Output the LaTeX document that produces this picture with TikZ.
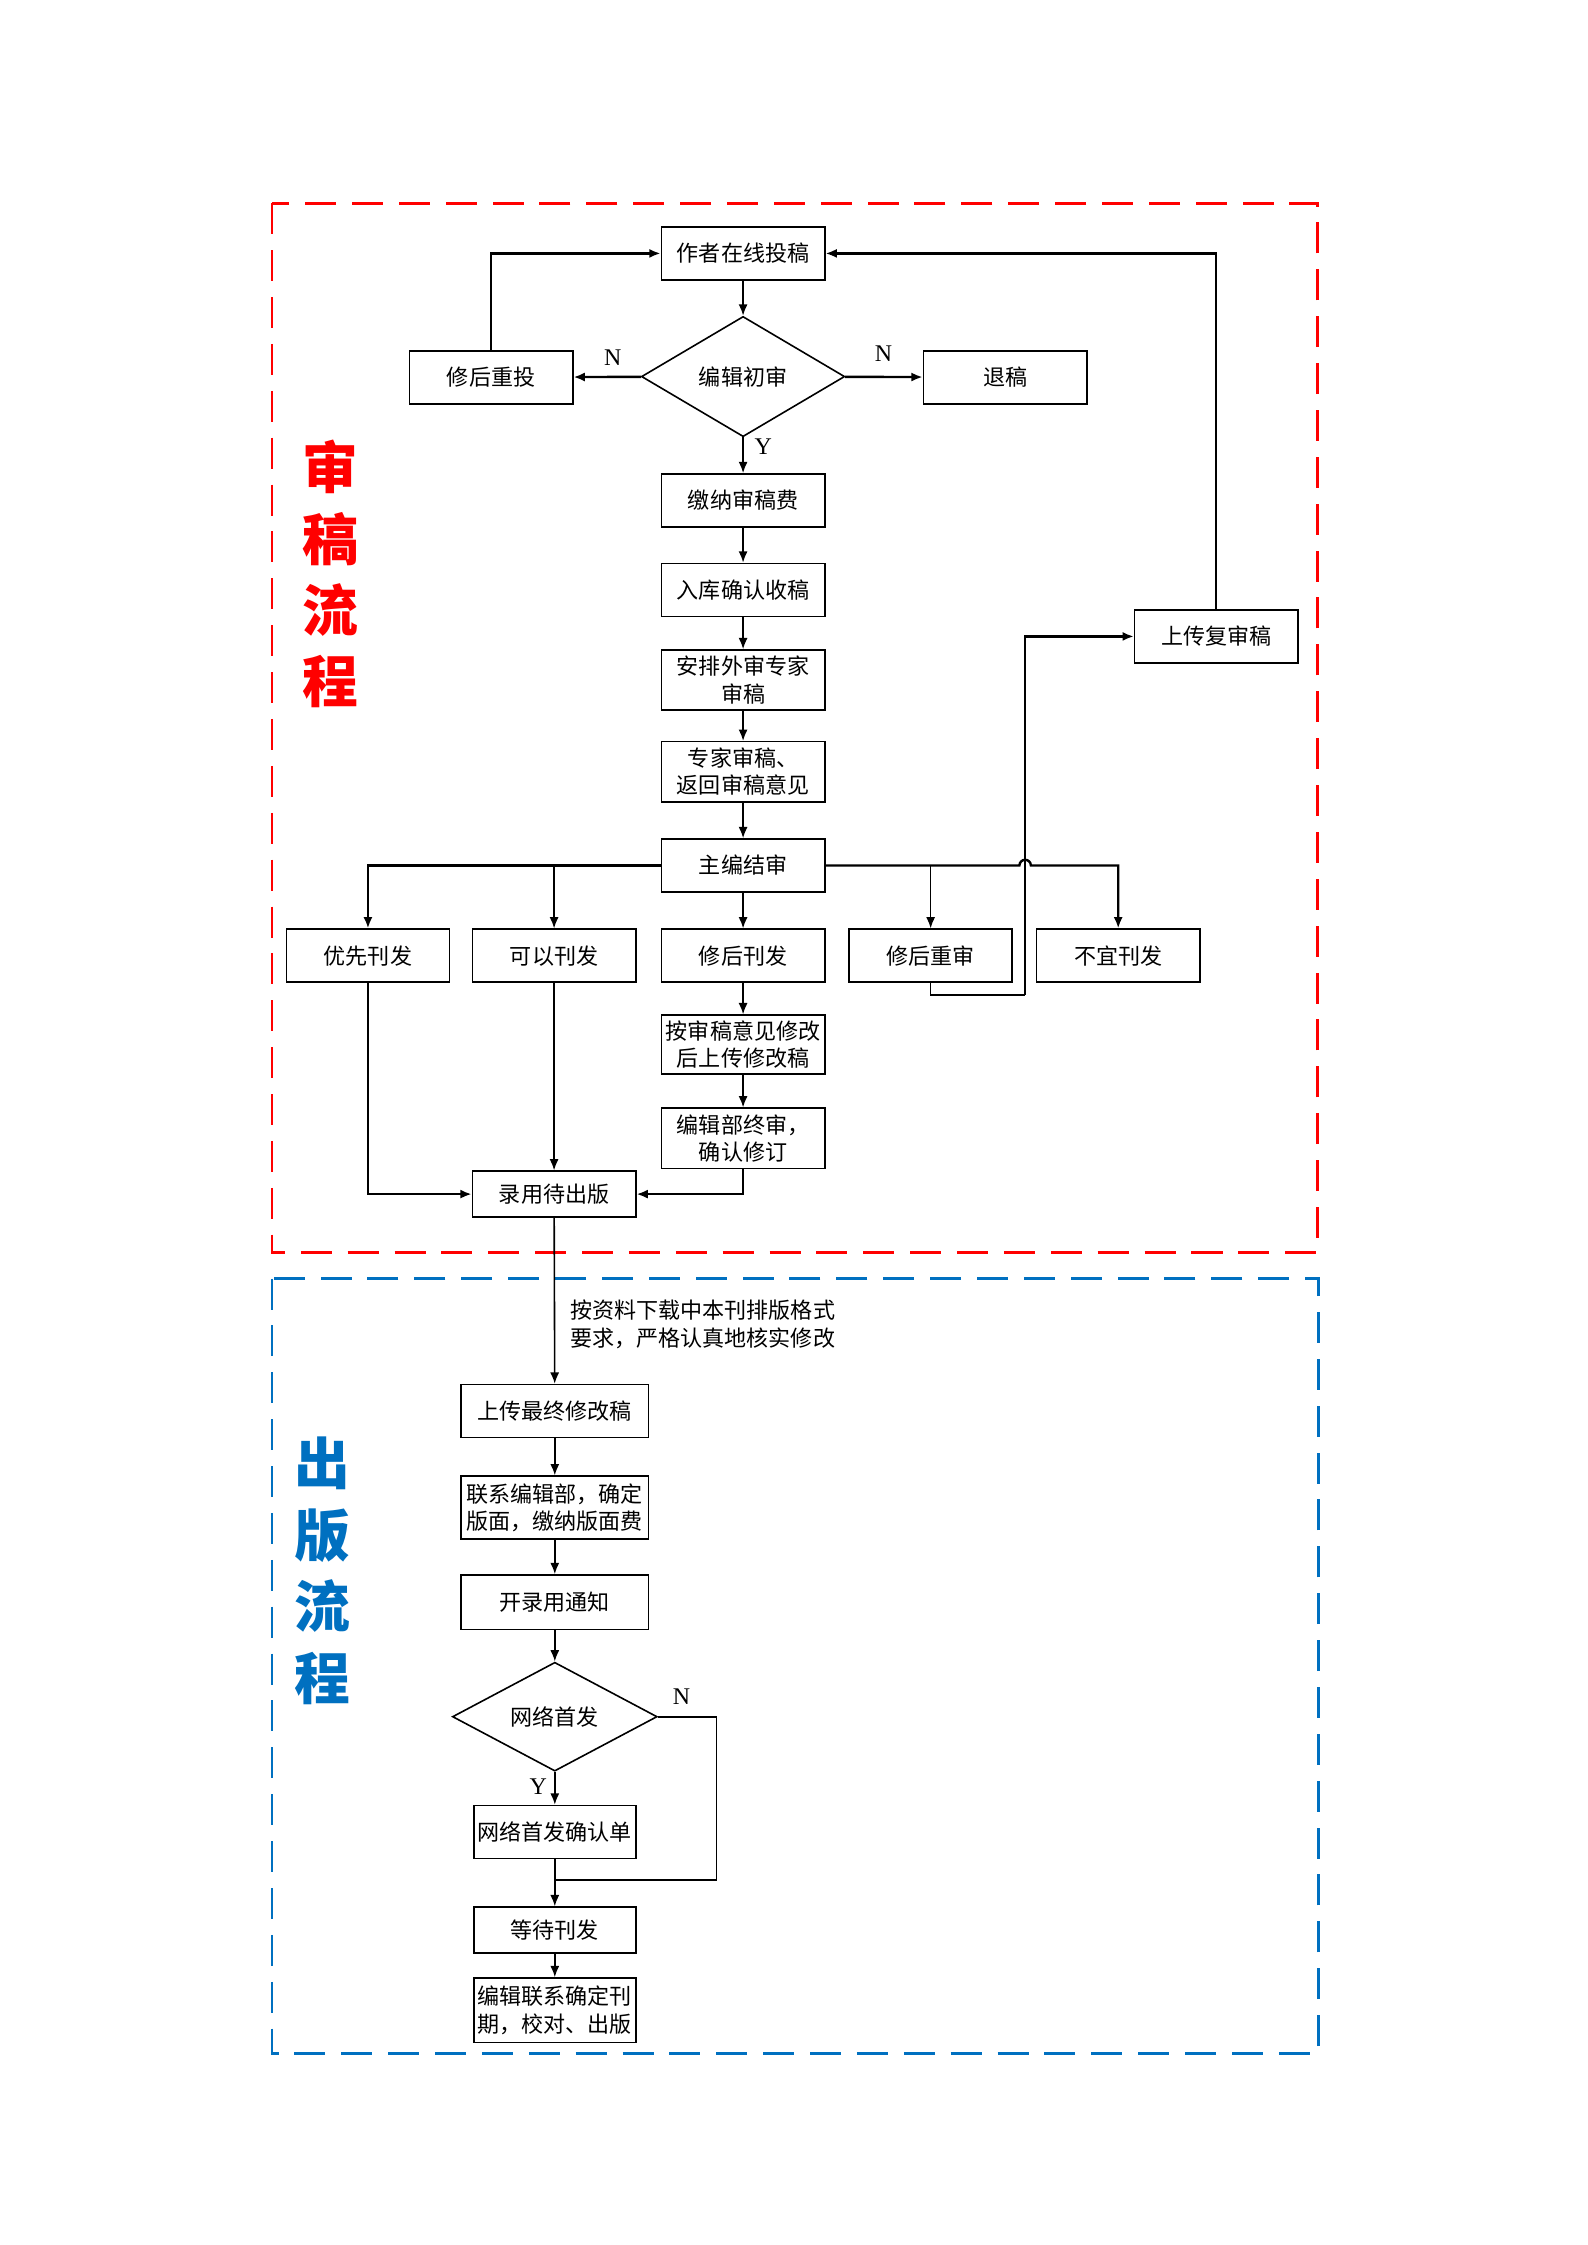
\documentclass[tikz,border=0pt]{standalone}
\usepackage{fontspec}
\setmainfont{Liberation Serif}
\newfontfamily\cjk{Noto Sans CJK SC}
\usetikzlibrary{arrows.meta, positioning, shapes.geometric}
\newdimen\pxu \pxu=0.018936cm
\definecolor{flowRed}{HTML}{FF0000}
\definecolor{flowBlue}{HTML}{0070C0}
\tikzset{
  arrowN/.style={-{Latex[length=1.5mm, width=1.2mm]}, line width=0.6pt},
  arrowT/.style={-{Latex[length=1.5mm, width=1.2mm]}, line width=0.9pt},
  lineN/.style={line width=0.6pt},
  boxA/.style={rectangle, draw, line width=0.6pt, minimum width=114\pxu,
               minimum height=37\pxu, inner sep=1pt, align=center,
               font=\cjk\fontsize{8.3}{10.3}\selectfont},
  boxW/.style={boxA, minimum width=131\pxu},
  decision/.style={diamond, draw, line width=0.6pt, inner sep=0pt,
                   minimum width=142\pxu, minimum height=84\pxu,
                   font=\cjk\fontsize{8.3}{10.3}\selectfont},
  yn/.style={font=\fontsize{9}{10}\selectfont, inner sep=0pt},
  note/.style={anchor=west, align=left, inner sep=0pt,
               font=\cjk\fontsize{8.3}{10.8}\selectfont},
  frameR/.style={draw=flowRed, line width=1pt, dash pattern=on 4.1mm off 2.1mm},
  frameB/.style={draw=flowBlue, line width=1pt, dash pattern=on 4.1mm off 2.1mm},
  titleR/.style={text=flowRed, align=center, inner sep=0pt,
                 font=\cjk\bfseries\fontsize{21}{26.9}\selectfont},
  titleB/.style={titleR, text=flowBlue},
}

\begin{document}
\begin{tikzpicture}[x=\pxu, y=-\pxu]
  \useasboundingbox (0,0) rectangle (1109,1568);
  % frames and titles
  \draw[frameR] (190,142) rectangle (920,875);
  \draw[frameB] (190,893) rectangle (921,1434);
  \node[titleR] (titleReview) at (231,401) {审\\稿\\流\\程};
  \node[titleB] (titlePub) at (225,1097) {出\\版\\流\\程};

  % review part
  \node[boxA] (submit) at (519,177) {作者在线投稿};
  \node[decision] (check) at (519,263) {编辑初审};
  \node[boxA] (resub) at (343,263.5) {修后重投};
  \node[boxA] (reject) at (702,263.5) {退稿};
  \node[boxA] (fee) at (519,349.5) {缴纳审稿费};
  \node[boxA] (receive) at (519,412) {入库确认收稿};
  \node[boxA, minimum height=42\pxu] (assign) at (519,475) {安排外审专家\\审稿};
  \node[boxA, minimum height=42\pxu] (expert) at (519,539) {专家审稿、\\返回审稿意见};
  \node[boxA] (chief) at (519,604.5) {主编结审};
  \node[boxA] (upload) at (849.5,444.5) {上传复审稿};
  \node[boxA] (prio) at (257,667.5) {优先刊发};
  \node[boxA] (okpub) at (387,667.5) {可以刊发};
  \node[boxA] (revpub) at (519,667.5) {修后刊发};
  \node[boxA] (revrev) at (650,667.5) {修后重审};
  \node[boxA] (unfit) at (781,667.5) {不宜刊发};
  \node[boxA, minimum height=41\pxu] (modify) at (519,729.5) {按审稿意见修改\\后上传修改稿};
  \node[boxA, minimum height=42\pxu] (final) at (519,795) {编辑部终审，\\确认修订};
  \node[boxA, minimum height=32\pxu] (accept) at (387,834) {录用待出版};

  \node[yn] (nLeft) at (428,250) {N};
  \node[yn] (nRight) at (617,247) {N};
  \node[yn] (yDown) at (533,312) {Y};

  \draw[arrowN] (submit) -- (check);
  \draw[arrowT] (check) -- (resub);
  \draw[arrowT] (check) -- (reject);
  \draw[arrowN] (check) -- (fee);
  \draw[arrowT] (resub.north) |- (submit.west);
  \draw[arrowT] (upload.north) |- (submit.east);
  \draw[arrowN] (fee) -- (receive);
  \draw[arrowN] (receive) -- (assign);
  \draw[arrowN] (assign) -- (expert);
  \draw[arrowN] (expert) -- (chief);

  % bus under the chief editor
  \coordinate (hop) at (716,604.5);
  \coordinate (turn) at (716,695);
  \draw[arrowT] (chief.west) -| (prio.north);
  \draw[arrowN] (okpub.north |- chief.west) -- (okpub);
  \draw[arrowN] (chief) -- (revpub);
  \draw[arrowT] (chief.east) -- ([xshift=-4\pxu]hop)
    arc[start angle=180, end angle=0, radius=4\pxu] -| (unfit.north);
  \draw[arrowN] (revrev.north |- chief.east) -- (revrev);
  \draw[lineN] (revrev.south) |- (turn);
  \draw[arrowT] (turn) |- (upload.west);

  \draw[arrowN] (revpub) -- (modify);
  \draw[arrowN] (modify) -- (final);
  \draw[arrowT] (prio.south) |- (accept.west);
  \draw[arrowN] (okpub) -- (accept);
  \draw[arrowT] (final.south) |- (accept.east);

  % publishing part
  \node[boxW] (finalup) at (387.5,985.5) {上传最终修改稿};
  \node[boxW, minimum height=44\pxu] (contact) at (387.5,1053) {联系编辑部，确定\\版面，缴纳版面费};
  \node[boxW, minimum height=38\pxu] (notice) at (387.5,1119) {开录用通知};
  \node[decision, minimum width=143\pxu, minimum height=74\pxu] (online) at (387.5,1199) {网络首发};
  \node[boxA, minimum width=113\pxu] (confirm) at (387.5,1279.5) {网络首发确认单};
  \node[boxA, minimum width=113\pxu, minimum height=32\pxu] (wait) at (387.5,1348) {等待刊发};
  \node[boxA, minimum width=113\pxu, minimum height=45\pxu] (publish) at (387.5,1404) {编辑联系确定刊\\期，校对、出版};
  \node[note] (format) at (398,925) {按资料下载中本刊排版格式\\要求，严格认真地核实修改};

  \node[yn] (nOnline) at (476,1185) {N};
  \node[yn] (yOnline) at (376,1248) {Y};

  \draw[arrowN] (accept) -- (finalup);
  \draw[arrowN] (finalup) -- (contact);
  \draw[arrowN] (contact) -- (notice);
  \draw[arrowN] (notice) -- (online);
  \draw[arrowN] (online) -- (confirm);
  \draw[arrowN] (confirm) -- (wait);
  \draw[arrowN] (wait) -- (publish);
  \coordinate (join) at (387.5,1313);
  \draw[lineN] (online.east) -- ++(41,0) |- (join);
\end{tikzpicture}
\end{document}
